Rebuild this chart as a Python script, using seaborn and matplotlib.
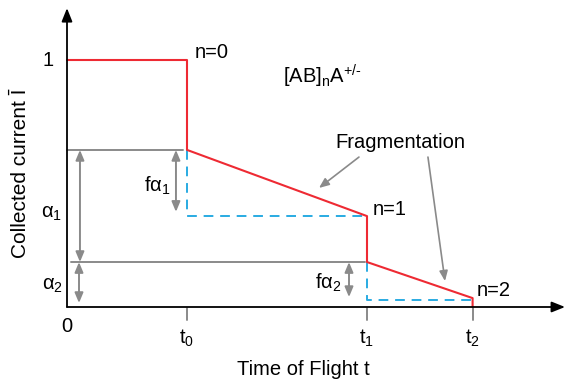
import matplotlib
matplotlib.use("Agg")
import matplotlib.pyplot as plt
import seaborn as sns
import pandas as pd

# flight times (t0, t1, t2) and current levels, in units of the diagram
t_names = ["t$_0$", "t$_1$", "t$_2$"]
t_vals = [1.0, 2.5, 3.38]

# red collected-current curve
curve_t = [0.0, 1.0, 1.0, 2.5, 2.5, 3.38, 3.38]
curve_I = [1.0, 1.0, 0.636, 0.368, 0.182, 0.036, 0.0]

# blue dashed "ideal" steps
dash1_t = [1.0, 1.0, 2.5]
dash1_I = [0.636, 0.368, 0.368]
dash2_t = [2.5, 2.5, 3.38]
dash2_I = [0.182, 0.028, 0.028]

alpha1_top, alpha1_bot = 0.636, 0.182
alpha2_top, alpha2_bot = 0.182, 0.016
fa1_top, fa1_bot = 0.636, 0.385
fa2_top, fa2_bot = 0.182, 0.04

RED = "#ee2a33"
BLUE = "#29abe2"
GRAY = "#8a8a8a"

sns.set_style("white")
plt.rcParams["font.family"] = ["Liberation Sans", "DejaVu Sans"]
plt.rcParams["mathtext.fontset"] = "custom"
plt.rcParams["mathtext.rm"] = "Liberation Sans"
plt.rcParams["mathtext.it"] = "Liberation Sans"
plt.rcParams["text.color"] = "black"

fig = plt.figure(figsize=(5.67, 3.84), dpi=100)
ax = fig.add_axes([0, 0, 1, 1])
ax.set_xlim(-67 / 120, 500 / 120)
ax.set_ylim(-77 / 247, 307 / 247)
ax.axis("off")

# gray reference levels
ax.plot([0, 0.967], [alpha1_top, alpha1_top], color=GRAY, lw=1.4)
ax.plot([0.03, 2.48], [alpha2_top, alpha2_top], color=GRAY, lw=1.4)

# dashed blue steps
ax.plot(dash1_t, dash1_I, color=BLUE, lw=1.4, ls=(0, (5, 3.5)))
ax.plot(dash2_t, dash2_I, color=BLUE, lw=1.4, ls=(0, (5, 3.5)))

# red curve
df = pd.DataFrame({"t": curve_t, "I": curve_I})
sns.lineplot(data=df, x="t", y="I", sort=False, color=RED, lw=1.5, ax=ax,
             estimator=None)
ax.set_xlabel("")
ax.set_ylabel("")

# axes with arrows
ax.annotate("", xy=(0, 1.21), xytext=(0, 0),
            arrowprops=dict(arrowstyle="-|>,head_length=0.8,head_width=0.32",
                            color="black", lw=1.3, shrinkA=0, shrinkB=0))
ax.annotate("", xy=(4.15, 0), xytext=(0, 0),
            arrowprops=dict(arrowstyle="-|>,head_length=0.8,head_width=0.32",
                            color="black", lw=1.3, shrinkA=0, shrinkB=0))

fs = 14.5

# tick marks
for tv, name in zip(t_vals, t_names):
    ax.plot([tv, tv], [-0.004, -0.053], color=GRAY, lw=1.4)
    ax.text(tv, -0.125, name, ha="center", va="center", fontsize=fs)

# double arrows
def double_arrow(x, y0, y1):
    ax.annotate("", xy=(x, y1), xytext=(x, y0),
                arrowprops=dict(arrowstyle="<|-|>,head_length=0.6,head_width=0.25",
                                color=GRAY, lw=1.4, shrinkA=0, shrinkB=0))

double_arrow(0.108, alpha1_top, alpha1_bot)
double_arrow(0.100, alpha2_top, alpha2_bot)
double_arrow(0.908, fa1_top, fa1_bot)
double_arrow(2.35, fa2_top, fa2_bot)

ax.text(-0.11, 1.0, "1", ha="right", va="center", fontsize=fs)
ax.text(0.0, -0.077, "0", ha="center", va="center", fontsize=fs)
ax.text(1.97, -0.255, "Time of Flight t", ha="center", va="center", fontsize=fs)
ax.text(-0.39, 0.543, "Collected current Ī", ha="center", va="center",
        rotation=90, fontsize=fs + 0.5)
ax.text(-0.125, 0.38, r"$\mathregular{α_1}$", ha="center", va="center", fontsize=fs)
ax.text(-0.125, 0.089, r"$\mathregular{α_2}$", ha="center", va="center", fontsize=fs)
ax.text(0.86, 0.49, r"$\mathregular{fα_1}$", ha="right", va="center", fontsize=fs)
ax.text(2.29, 0.097, r"$\mathregular{fα_2}$", ha="right", va="center", fontsize=fs)
ax.text(1.067, 1.03, "n=0", ha="left", va="center", fontsize=fs)
ax.text(2.55, 0.393, "n=1", ha="left", va="center", fontsize=fs)
ax.text(3.41, 0.065, "n=2", ha="left", va="center", fontsize=fs)
ax.text(1.8, 0.935, r"$\mathregular{[AB]_nA^{\text{+/-}}}$", ha="left", va="center",
        fontsize=fs)
ax.text(2.78, 0.664, "Fragmentation", ha="center", va="center", fontsize=fs)

frag_kw = dict(arrowstyle="-|>,head_length=0.6,head_width=0.25",
               color=GRAY, lw=1.2, shrinkA=0, shrinkB=0)
ax.annotate("", xy=(2.1, 0.482), xytext=(2.433, 0.607), arrowprops=frag_kw)
ax.annotate("", xy=(3.15, 0.105), xytext=(3.008, 0.607), arrowprops=frag_kw)

fig.savefig("out.png", dpi=100)
